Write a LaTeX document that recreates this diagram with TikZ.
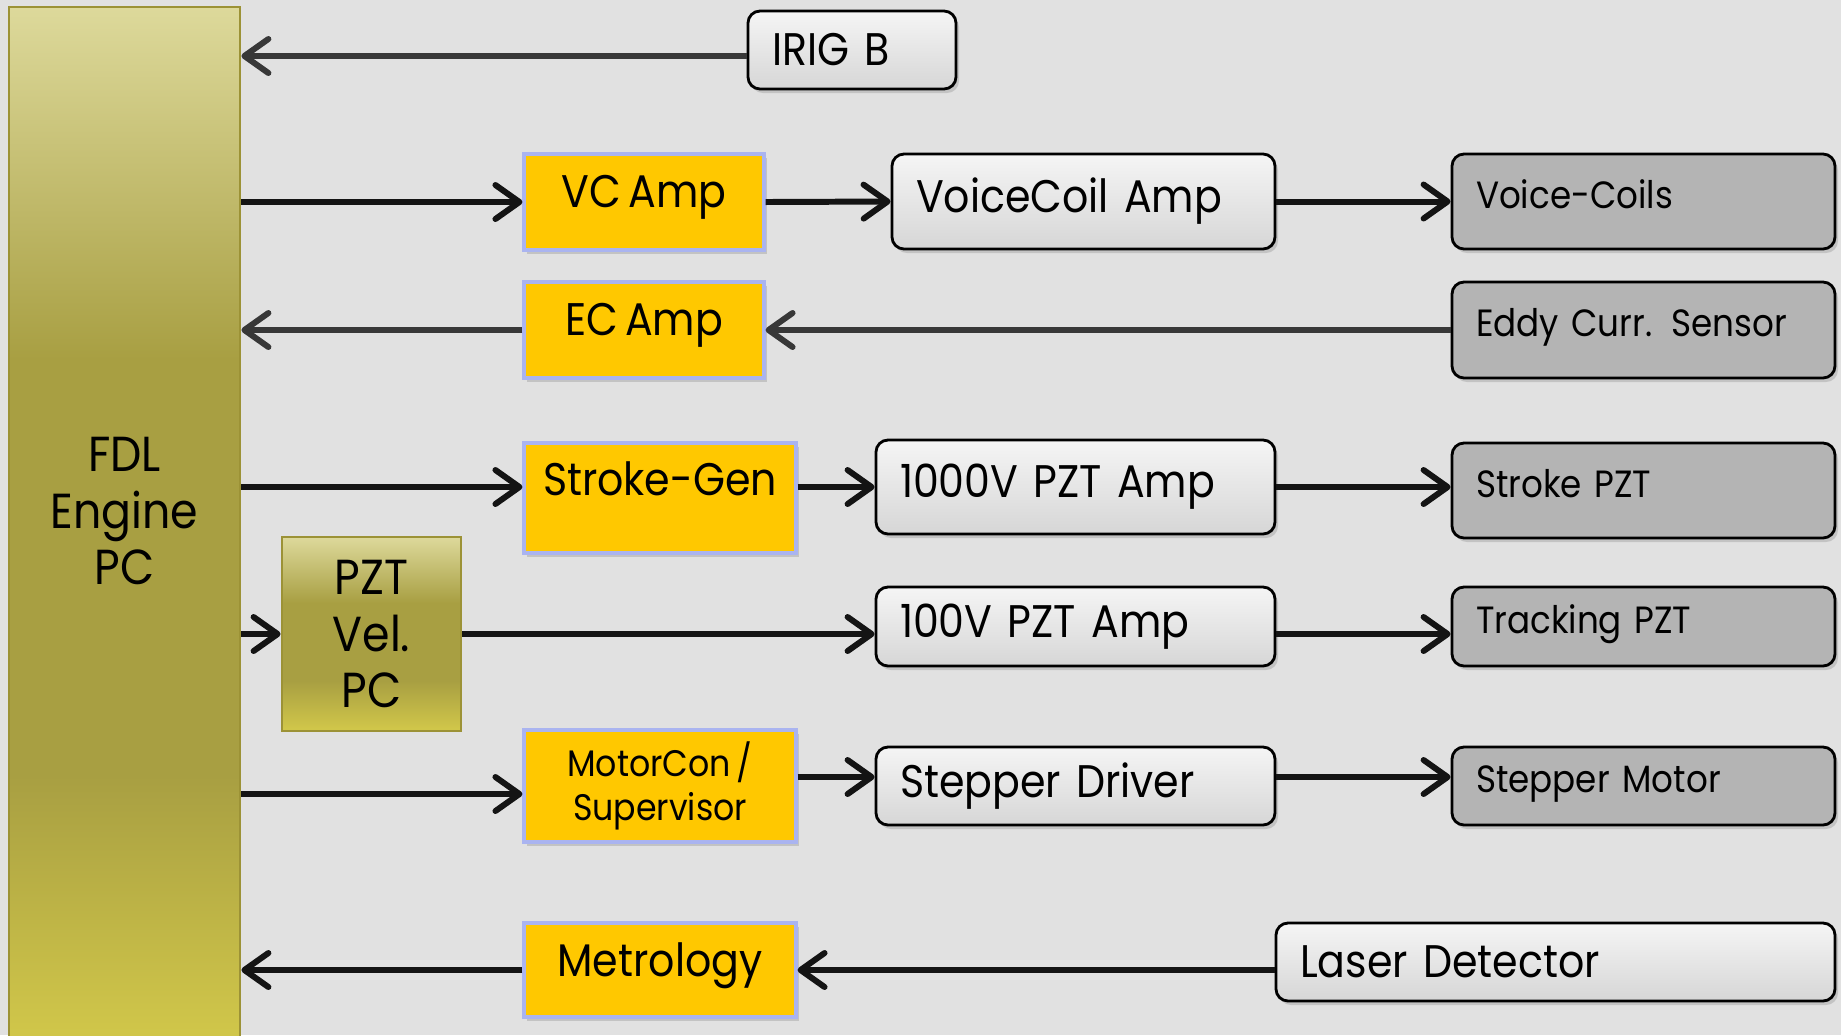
\documentclass[tikz,border=0pt]{standalone}
\usepackage{fontspec}
\setmainfont{Poppins}[FakeStretch=0.9, WordSpace=0.65]
\usetikzlibrary{arrows.meta,shadows}
\definecolor{slidegray}{RGB}{225,225,225}
\definecolor{olivetop}{RGB}{221,217,155}
\definecolor{olivemid}{RGB}{168,159,66}
\definecolor{olivebot}{RGB}{210,200,74}
\definecolor{oliveline}{RGB}{156,146,54}
\definecolor{ampyellow}{RGB}{255,200,0}
\definecolor{lavender}{RGB}{170,180,240}
\definecolor{devgray}{RGB}{180,180,180}
\pgfdeclareverticalshading{olivebar}{100bp}{color(0bp)=(olivebot); color(25bp)=(olivebot);
  color(38bp)=(olivemid); color(58bp)=(olivemid); color(75bp)=(olivetop); color(100bp)=(olivetop)}

\begin{document}
\begin{tikzpicture}[
  >={Straight Barb[length=2.4mm,width=3.4mm,round]},
  pctext/.style={align=center, inner sep=0pt, font=\fontsize{14}{16}\selectfont},
  pc/.style={pctext, draw=oliveline, line width=0.8pt, shading=olivebar},
  amp/.style={draw=lavender, fill=ampyellow, line width=0.9pt,
    align=center, inner sep=0pt, font=\fontsize{13}{15}\selectfont,
    drop shadow={shadow xshift=0.03cm, shadow yshift=-0.04cm, opacity=0.3}},
  unit/.style={draw=black, line width=0.8pt, rounded corners=0.12cm,
    shading=axis, top color=black!4, bottom color=black!16,
    align=left, inner xsep=0.24cm, inner ysep=0pt,
    font=\fontsize{13}{15}\selectfont,
    drop shadow={shadow xshift=0.03cm, shadow yshift=-0.04cm, opacity=0.3}},
  device/.style={draw=black, fill=devgray, line width=0.8pt,
    rounded corners=0.12cm, align=left, inner xsep=0.24cm, inner ysep=0pt,
    text width=3.35cm, minimum width=3.83cm, minimum height=0.95cm,
    text height=0.32cm, text depth=0.19cm,
    font=\fontsize{10.8}{13}\selectfont,
    drop shadow={shadow xshift=0.03cm, shadow yshift=-0.04cm, opacity=0.3}},
  arrow/.style={->, draw=black!92, line width=1.7pt},
  feed/.style={->, draw=black!78, line width=1.7pt}
]
\useasboundingbox (0,0) rectangle (18.41,-10.35);
\fill[slidegray] (0,0) rectangle (18.41,-10.35);

% Computers
\node[pc, minimum width=2.31cm, minimum height=10.38cm,
  label={[pctext, yshift=0.15cm]center:FDL\\Engine\\PC}] (engine) at (1.245,-5.26) {};
\node[pc, minimum width=1.79cm, minimum height=1.94cm] (pztvel) at (3.715,-6.34) {PZT\\Vel.\\PC};

% Time code
\node[unit, text width=1.6cm, minimum height=0.78cm] (irig) at (8.52,-0.50) {IRIG B};

% Amplifier cards
\node[amp, text height=0.40cm, text depth=0.30cm, minimum width=2.40cm, minimum height=0.96cm] (vcamp) at (6.44,-2.02) {VC Amp};
\node[amp, text height=0.40cm, text depth=0.30cm, minimum width=2.40cm, minimum height=0.96cm] (ecamp) at (6.44,-3.30) {EC Amp};
\node[amp, text height=0.40cm, text depth=0.46cm, minimum width=2.72cm, minimum height=1.10cm] (strokegen) at (6.60,-4.98) {Stroke-Gen};
\node[amp, minimum width=2.72cm, minimum height=1.12cm, font=\fontsize{10.5}{12.3}\selectfont] (motorcon) at (6.60,-7.86) {MotorCon /\\Supervisor};
\node[amp, text height=0.40cm, text depth=0.28cm, minimum width=2.72cm, minimum height=0.94cm] (metrology) at (6.60,-9.70) {Metrology};

% Drivers
\node[unit, text width=3.35cm, minimum height=0.95cm] (vcoilamp) at (10.835,-2.015) {VoiceCoil Amp};
\node[unit, text width=3.51cm, minimum height=0.94cm] (hvamp) at (10.755,-4.87) {1000V PZT Amp};
\node[unit, text width=3.51cm, minimum height=0.79cm] (lvamp) at (10.755,-6.265) {100V PZT Amp};
\node[unit, text width=3.51cm, minimum height=0.78cm] (stepdrv) at (10.755,-7.86) {Stepper Driver};
\node[unit, text width=5.11cm, minimum height=0.78cm] (laser) at (15.555,-9.62) {Laser Detector};

% Actuators and sensors
\node[device] (vcoils) at (16.435,-2.015) {Voice-Coils};
\node[device, minimum height=0.96cm] (eddy) at (16.435,-3.30) {Eddy Curr. Sensor};
\node[device] (strokepzt) at (16.435,-4.905) {Stroke PZT};
\node[device, minimum height=0.79cm] (tracking) at (16.435,-6.265) {Tracking PZT};
\node[device, minimum height=0.78cm] (stepmotor) at (16.435,-7.86) {Stepper Motor};

% Signal paths
\draw[feed] ([yshift=-0.06cm]irig.west) -- ([yshift=-0.06cm]irig.west -| engine.east);
\draw[arrow] (engine.east |- vcamp) -- (vcamp.west);
\draw[arrow] (vcamp.east) -- (vcoilamp.west);
\draw[arrow] (vcoilamp.east) -- (vcoils.west);
\draw[feed] (eddy.west) -- (ecamp.east);
\draw[feed] (ecamp.west) -- (ecamp.west -| engine.east);
\draw[arrow] (engine.east |- hvamp) -- (strokegen.west |- hvamp);
\draw[arrow] (strokegen.east |- hvamp) -- (hvamp.west);
\draw[arrow] (hvamp.east) -- (hvamp.east -| strokepzt.west);
\draw[arrow] (engine.east |- pztvel) -- (pztvel.west);
\draw[arrow] (pztvel.east) -- (pztvel.east -| lvamp.west);
\draw[arrow] (lvamp.east |- pztvel) -- (tracking.west |- pztvel);
\draw[arrow] ([yshift=-0.08cm]engine.east |- motorcon) -- ([yshift=-0.08cm]motorcon.west);
\draw[arrow] ([yshift=0.09cm]motorcon.east) -- ([yshift=0.09cm]stepdrv.west);
\draw[arrow] ([yshift=0.09cm]stepdrv.east) -- ([yshift=0.09cm]stepmotor.west);
\draw[arrow] (laser.west |- metrology) -- (metrology.east);
\draw[arrow] (metrology.west) -- (metrology.west -| engine.east);
\end{tikzpicture}
\end{document}
